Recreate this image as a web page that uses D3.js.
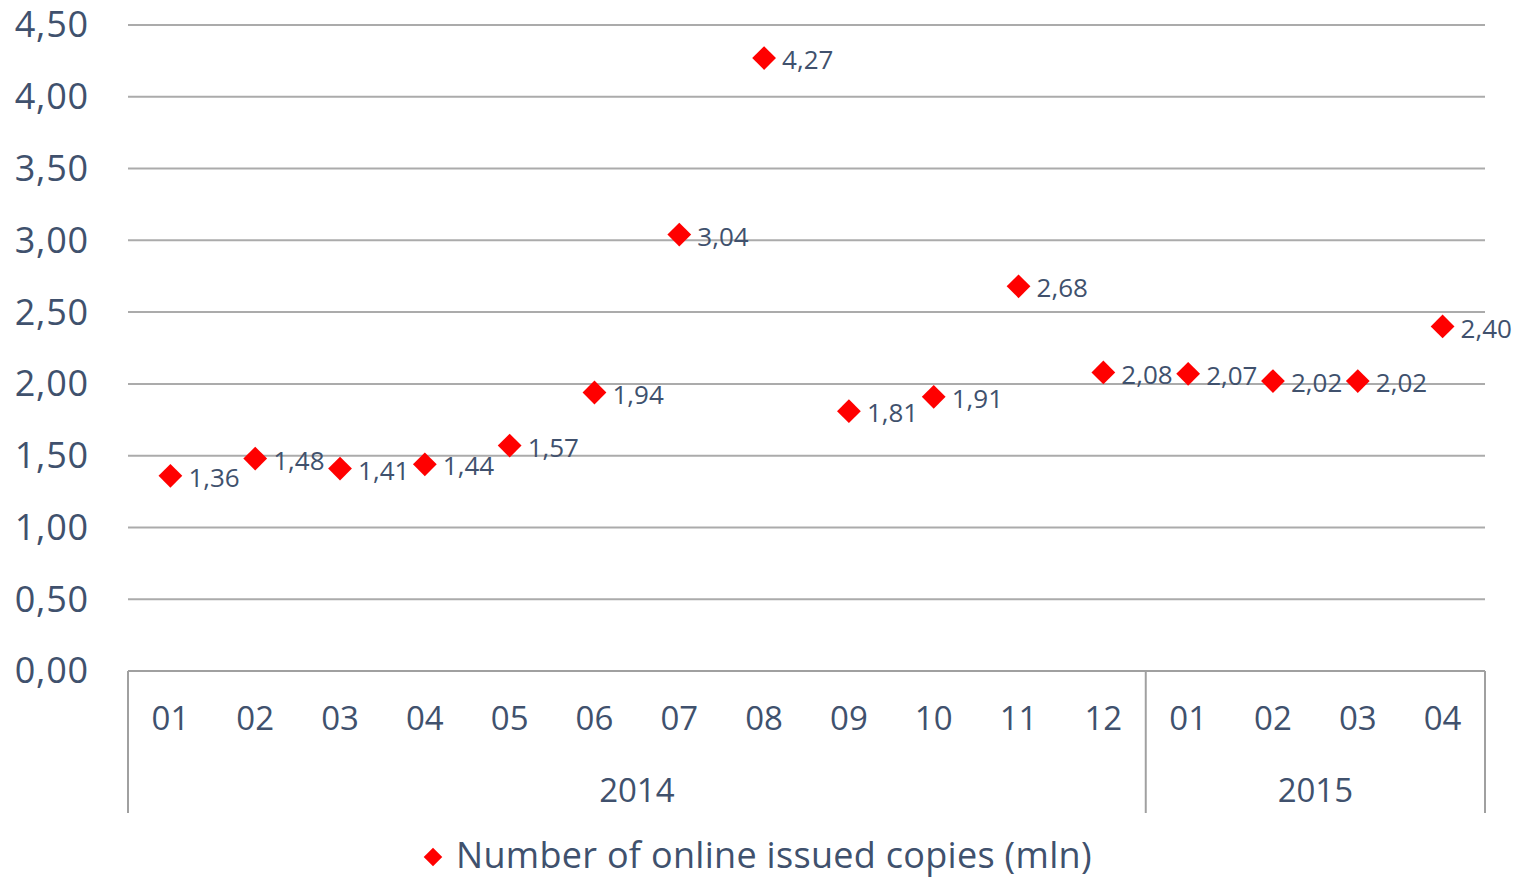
<!DOCTYPE html>
<html><head><meta charset="utf-8">
<script src="https://cdn.jsdelivr.net/npm/d3@7"></script>
<style>body{margin:0;background:#fff}svg{display:block}</style>
</head><body><svg id="c" width="1525" height="880"></svg>
<script>
const months = ["01","02","03","04","05","06","07","08","09","10","11","12","01","02","03","04"];
const years = [{label:"2014", count:12},{label:"2015", count:4}];
const values = [1.36,1.48,1.41,1.44,1.57,1.94,3.04,4.27,1.81,1.91,2.68,2.08,2.07,2.02,2.02,2.40];
const yTicks = [0,0.5,1,1.5,2,2.5,3,3.5,4,4.5];
const seriesName = "Number of online issued copies (mln)";

const svg = d3.select("#c");
const L = 128, R = 1485, T = 25, B = 671;
const font = "'Open Sans', sans-serif";
const textColor = "#40516D";
const fmt = v => d3.format(".2f")(v).replace(".", ",");

const x = d3.scaleBand().domain(d3.range(months.length)).range([L, R]).padding(0);
const y = d3.scaleLinear().domain([0, 4.5]).range([B, T]);

// gridlines
svg.append("g").selectAll("line").data(yTicks.filter(d => d > 0)).join("line")
  .attr("x1", L).attr("x2", R).attr("y1", d => y(d)).attr("y2", d => y(d))
  .attr("stroke", "#ABABAB").attr("stroke-width", 2);

// y axis labels
const yAxis = d3.axisLeft(y).tickValues(yTicks).tickFormat(fmt).tickSize(0).tickPadding(0);
const ya = svg.append("g").attr("transform", `translate(89,0)`).call(yAxis);
ya.select(".domain").remove();
ya.selectAll("text").attr("font-family", font).attr("font-size", 36).attr("letter-spacing", 0.8).attr("fill", textColor).attr("dy", "0.33em");

// x axis
svg.append("line").attr("x1", L).attr("x2", R).attr("y1", B).attr("y2", B).attr("stroke", "#A0A0A0").attr("stroke-width", 2);
const xAxis = d3.axisBottom(x).tickFormat(i => months[i]).tickSize(0).tickPadding(0);
const xa = svg.append("g").attr("transform", `translate(0,${B + 47})`).call(xAxis);
xa.select(".domain").remove();
xa.selectAll("text").attr("font-family", font).attr("font-size", 33).attr("fill", textColor).attr("dy", "0.35em");

// year groups
let idx = 0;
const bounds = [0];
years.forEach(yr => { idx += yr.count; bounds.push(idx); });
const bx = d => d < months.length ? x(d) : R;
svg.append("g").selectAll("line").data(bounds).join("line")
  .attr("x1", bx).attr("x2", bx)
  .attr("y1", B).attr("y2", 813).attr("stroke", "#A0A0A0").attr("stroke-width", 2);
svg.append("g").selectAll("text").data(years).join("text")
  .attr("x", (d, i) => (bx(bounds[i]) + bx(bounds[i + 1])) / 2)
  .attr("y", 790).attr("dy", "0.35em").attr("text-anchor", "middle")
  .attr("font-family", font).attr("font-size", 33).attr("fill", textColor).text(d => d.label);

// markers
const diamond = d3.symbol().type(d3.symbolDiamond2).size(360);
const cx = i => x(i) + x.bandwidth() / 2;
svg.append("g").selectAll("path").data(values).join("path")
  .attr("d", diamond).attr("transform", (d, i) => `translate(${cx(i)},${y(d)})`)
  .attr("fill", "#FF0000");

// data labels
svg.append("g").selectAll("text").data(values).join("text")
  .attr("x", (d, i) => cx(i) + 18).attr("y", d => y(d) + 2).attr("dy", "0.35em")
  .attr("font-family", font).attr("font-size", 26).attr("fill", textColor).text(fmt);

// legend
svg.append("path").attr("d", d3.symbol().type(d3.symbolDiamond2).size(220)).attr("transform", "translate(433,857)").attr("fill", "#FF0000");
svg.append("text").attr("x", 456).attr("y", 855).attr("dy", "0.35em")
  .attr("font-family", font).attr("font-size", 36).attr("letter-spacing", 0.3).attr("fill", textColor).text(seriesName);
</script></body></html>
